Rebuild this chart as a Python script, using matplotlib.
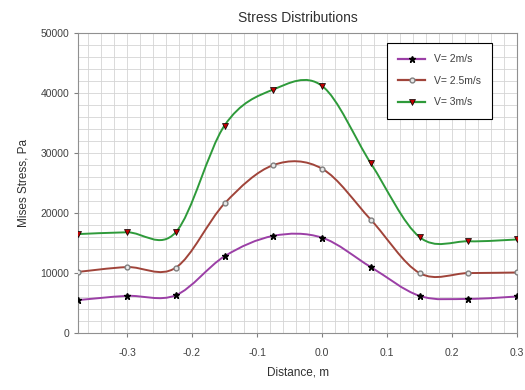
import numpy as np
import matplotlib
matplotlib.use("Agg")
import matplotlib.pyplot as plt
from matplotlib.path import Path
from matplotlib.patches import PathPatch
from matplotlib.lines import Line2D
from matplotlib.ticker import MultipleLocator

plt.rcParams['font.family'] = ['Liberation Sans', 'DejaVu Sans']

distance = [-0.375, -0.3, -0.225, -0.15, -0.075, 0.0, 0.075, 0.15, 0.225, 0.3]
stress_v2 = [5500, 6200, 6300, 12800, 16200, 15900, 11000, 6200, 5700, 6100]
stress_v25 = [10200, 11000, 10900, 21600, 28000, 27400, 18900, 10000, 10000, 10100]
stress_v3 = [16500, 16800, 16800, 34600, 40600, 41200, 28300, 16000, 15300, 15600]
labels = ['V= 2m/s', 'V= 2.5m/s', 'V= 3m/s']


def smooth_path(x, y):
    # excel style smoothed line: cubic bezier through every point
    x = np.asarray(x, float)
    y = np.asarray(y, float)
    n = len(x)
    verts = [(x[0], y[0])]
    codes = [Path.MOVETO]
    for i in range(n - 1):
        i0 = max(i - 1, 0)
        i3 = min(i + 2, n - 1)
        c1 = (x[i] + (x[i + 1] - x[i0]) / 6, y[i] + (y[i + 1] - y[i0]) / 6)
        c2 = (x[i + 1] - (x[i3] - x[i]) / 6, y[i + 1] - (y[i3] - y[i]) / 6)
        verts += [c1, c2, (x[i + 1], y[i + 1])]
        codes += [Path.CURVE4] * 3
    return Path(verts, codes)


fig = plt.figure(figsize=(5.25, 3.9), dpi=100)
ax = fig.add_axes([0.149, 0.146, 0.836, 0.769])

series = [
    (stress_v2, '#9b3fa6', dict(marker='*', markersize=4.5, markerfacecolor='black', markeredgecolor='black')),
    (stress_v25, '#a0443a', dict(marker='o', markersize=3.5, markerfacecolor='#e8e8e8', markeredgecolor='#808080')),
    (stress_v3, '#2e9a3a', dict(marker='v', markersize=4.5, markerfacecolor='#c00000', markeredgecolor='black', markeredgewidth=0.5)),
]

handles = []
for vals, col, mk in series:
    ax.add_patch(PathPatch(smooth_path(distance, vals), facecolor='none', edgecolor=col, lw=1.4, zorder=3))
    ax.plot(distance, vals, linestyle='none', zorder=4, **mk)
    handles.append(Line2D([], [], color=col, lw=1.6, **mk))

ax.set_xlim(-0.375, 0.3)
ax.set_ylim(0, 50000)
ax.xaxis.set_major_locator(MultipleLocator(0.1))
ax.xaxis.set_minor_locator(MultipleLocator(0.02))
ax.yaxis.set_major_locator(MultipleLocator(10000))
ax.yaxis.set_minor_locator(MultipleLocator(2000))
ax.xaxis.set_major_formatter(plt.FuncFormatter(lambda v, p: f'{v:.1f}'))
ax.grid(True, which='both', color='#d4d4d4', lw=0.6)
ax.set_axisbelow(True)

for s in ax.spines.values():
    s.set_color('#909090')
ax.tick_params(which='major', length=3, color='#808080', labelsize=7.5, labelcolor='#404040')
ax.tick_params(which='minor', length=0)
ax.tick_params(axis='x', pad=8)

ax.set_title('Stress Distributions', fontsize=10, color='#303030', pad=8)
ax.set_xlabel('Distance, m', fontsize=8.5, color='#303030', labelpad=6)
ax.set_ylabel('Mises Stress, Pa', fontsize=8.5, color='#303030', labelpad=8)

leg = ax.legend(handles, labels, loc='upper right', bbox_to_anchor=(0.955, 0.985),
                fontsize=7.5, frameon=True, fancybox=False, framealpha=1,
                edgecolor='black', handlelength=2.6, labelspacing=1.1, borderpad=1.1)
leg.get_frame().set_linewidth(0.8)
for t in leg.get_texts():
    t.set_color('#404040')

fig.savefig('out.png', dpi=100)
